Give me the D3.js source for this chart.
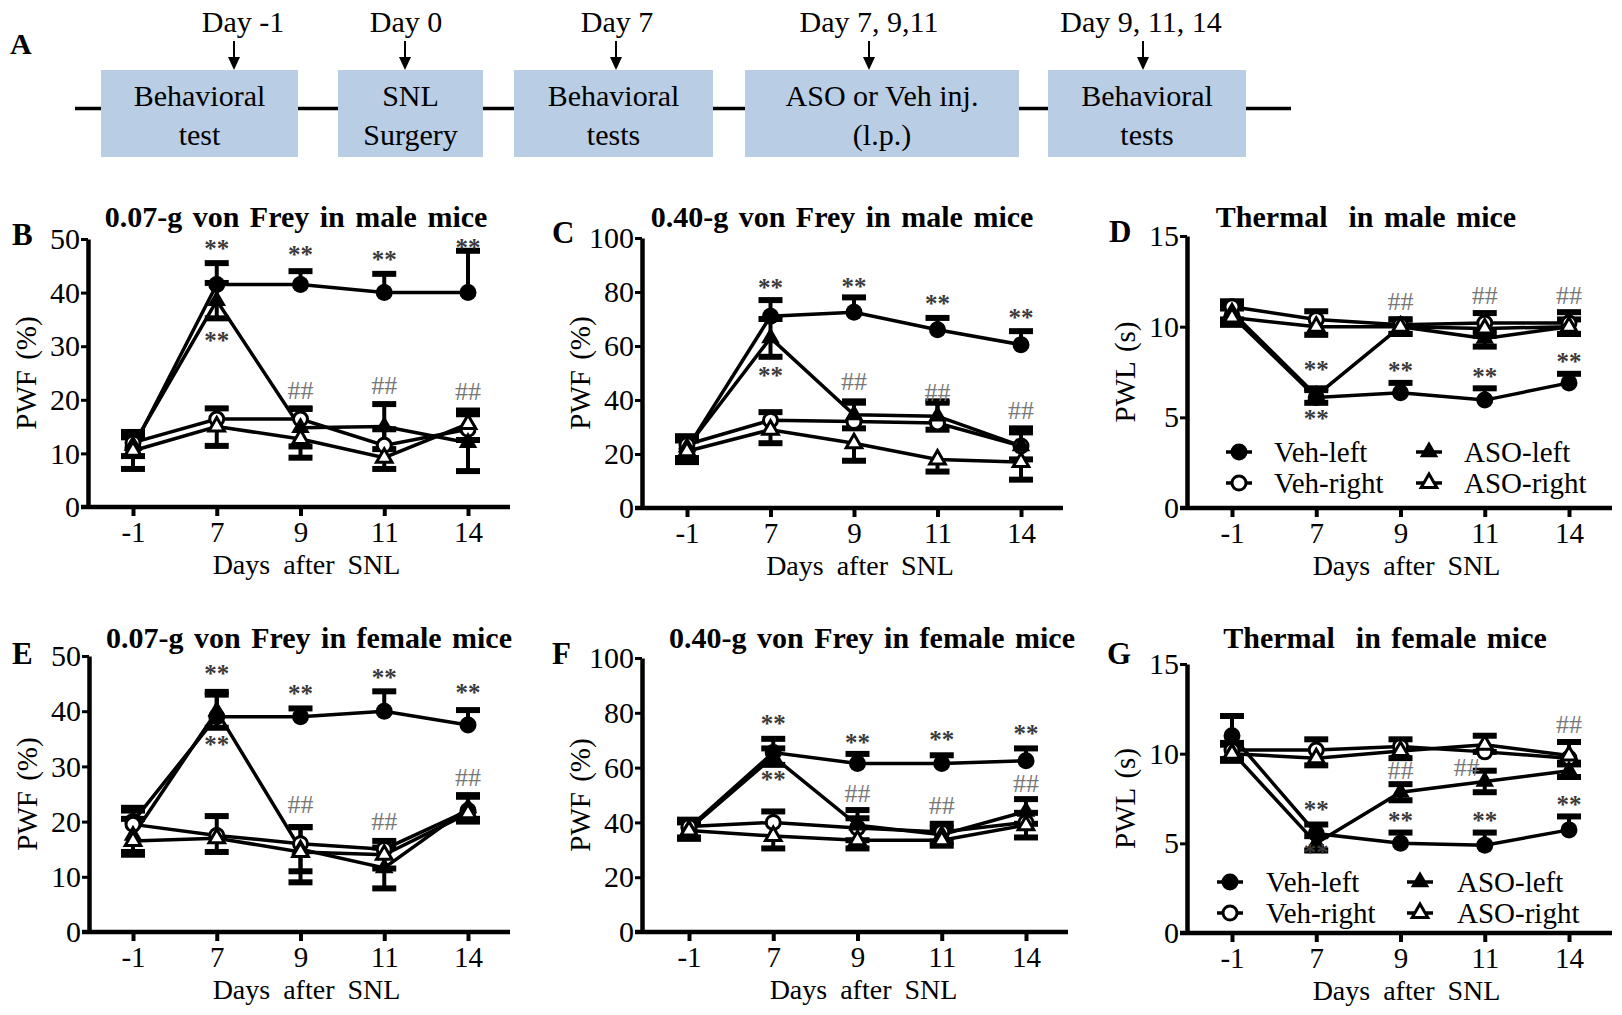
<!DOCTYPE html>
<html>
<head>
<meta charset="utf-8">
<script src="https://cdn.jsdelivr.net/npm/d3@7"></script>
<style>
  html, body { margin: 0; padding: 0; background: #fff; }
  svg { display: block; font-family: "Liberation Serif", "Times New Roman", serif; }
</style>
</head>
<body>
<svg id="fig" width="1622" height="1015"></svg>
<script>
// ---------------- DATA ----------------
const days = ["-1", "7", "9", "11", "14"];
const seriesNames = ["Veh-left", "Veh-right", "ASO-left", "ASO-right"];

// Panel A timeline
const stepDays = ["Day -1", "Day 0", "Day 7", "Day 7, 9,11", "Day 9, 11, 14"];
const stepLine1 = ["Behavioral", "SNL", "Behavioral", "ASO or Veh inj.", "Behavioral"];
const stepLine2 = ["test", "Surgery", "tests", "(l.p.)", "tests"];

// Panel B: 0.07-g von Frey, male (PWF %)
const bVehLeft = [11, 41.5, 41.5, 40, 40];
const bVehLeftErr = [2, 4, 2.5, 3.5, 7.8];
const bVehRight = [12, 16.4, 16.4, 11.5, 14.5];
const bVehRightErr = [2, 2, 2, 3, 3.5];
const bAsoLeft = [11.5, 38.5, 14.8, 15, 12];
const bAsoLeftErr = [2, 3.3, 3.5, 4.2, 5.3];
const bAsoRight = [10.5, 15, 12.7, 9.2, 15.5];
const bAsoRightErr = [3.4, 3.6, 3.5, 2.1, 3];
const bStars = [["7", 48.7], ["9", 47.5], ["11", 46.6], ["14", 48.9], ["7", 31.6]];
const bHash = [["9", 21.9], ["11", 22.8], ["14", 21.6]];

// Panel C: 0.40-g von Frey, male (PWF %)
const cVehLeft = [22, 71, 72.5, 66, 60.5];
const cVehLeftErr = [3, 6, 5.5, 4.4, 5];
const cVehRight = [23.5, 32.5, 32, 31.5, 23];
const cVehRightErr = [3, 3, 7, 8, 6.5];
const cAsoLeft = [22.5, 63, 34.5, 34, 23];
const cAsoLeftErr = [4, 7, 5, 5, 5];
const cAsoRight = [21, 29, 24, 18, 17];
const cAsoRightErr = [4, 5, 6.5, 4.5, 6.5];
const cStars = [["7", 82.7], ["9", 83], ["11", 76.5], ["14", 71.6], ["7", 50]];
const cHash = [["9", 47], ["11", 43], ["14", 36.4]];

// Panel D: Thermal, male (PWL s)
const dVehLeft = [10.6, 6.1, 6.35, 5.95, 6.9];
const dVehLeftErr = [0.4, 0.4, 0.55, 0.65, 0.5];
const dVehRight = [11.1, 10.4, 10.1, 10.2, 10.2];
const dVehRightErr = [0.3, 0.45, 0.3, 0.55, 0.6];
const dAsoLeft = [10.8, 6.2, 10.0, 9.35, 10.0];
const dAsoLeftErr = [0.4, 0.4, 0.4, 0.45, 0.4];
const dAsoRight = [10.5, 10.0, 10.0, 9.9, 10.0];
const dAsoRightErr = [0.4, 0.45, 0.4, 0.4, 0.4];
const dStars = [["7", 7.8], ["9", 7.7], ["11", 7.4], ["14", 8.2], ["7", 5.06]];
const dHash = [["9", 11.4], ["11", 11.75], ["14", 11.75]];

// Panel E: 0.07-g von Frey, female (PWF %)
const eVehLeft = [20, 39, 39, 40, 37.5];
const eVehLeftErr = [2.5, 4.5, 1.5, 3.6, 2.7];
const eVehRight = [19.5, 17.5, 16, 15, 22];
const eVehRightErr = [2.5, 3.5, 3, 1.5, 2.8];
const eAsoLeft = [17.5, 40, 15, 11.6, 22.5];
const eAsoLeftErr = [3, 3, 4, 3.7, 2];
const eAsoRight = [16.5, 17, 14.5, 14, 21.5];
const eAsoRightErr = [2.5, 2.5, 5.5, 2.5, 1.5];
const eStars = [["7", 47.3], ["9", 43.6], ["11", 46.6], ["14", 43.9], ["7", 34.5]];
const eHash = [["9", 23.2], ["11", 20.1], ["14", 28]];

// Panel F: 0.40-g von Frey, female (PWF %)
const fVehLeft = [38, 65.5, 61.5, 61.5, 62.5];
const fVehLeftErr = [2, 5, 3.5, 3, 4.5];
const fVehRight = [38.5, 40, 38, 36.5, 40];
const fVehRightErr = [2.5, 4, 3.5, 3, 3.5];
const fAsoLeft = [37.5, 64, 39, 35.5, 44];
const fAsoLeftErr = [3, 3, 5.5, 2.5, 4.5];
const fAsoRight = [37, 35, 33.5, 33.5, 39];
const fAsoRightErr = [3, 4.5, 3, 2, 4.5];
const fStars = [["7", 77], ["9", 70], ["11", 71], ["14", 73.5], ["7", 56.6]];
const fHash = [["9", 50.6], ["11", 46.4], ["14", 54.2]];

// Panel G: Thermal, female (PWL s)
const gVehLeft = [11, 5.55, 5, 4.9, 5.75];
const gVehLeftErr = [1.1, 0.5, 0.6, 0.7, 0.75];
const gVehRight = [10.2, 10.2, 10.4, 10.1, 9.75];
const gVehRightErr = [0.4, 0.6, 0.4, 0.9, 0.9];
const gAsoLeft = [10.1, 5.0, 7.85, 8.45, 9.05];
const gAsoLeftErr = [0.4, 0.4, 0.45, 0.6, 0.35];
const gAsoRight = [10.0, 9.75, 10.15, 10.5, 9.9];
const gAsoRightErr = [0.4, 0.4, 0.4, 0.4, 0.4];
const gStars = [["7", 7.0], ["9", 6.4], ["11", 6.4], ["14", 7.3], ["7", 4.65]];
const gHash = [["9", 9.07], ["11", 9.26], ["14", 11.67]];

const pwfTicks = [0, 10, 20, 30, 40, 50];
const pwf100Ticks = [0, 20, 40, 60, 80, 100];
const pwlTicks = [0, 5, 10, 15];

// ---------------- DRAWING ----------------
const svg = d3.select("#fig");
svg.append("rect").attr("width", 1622).attr("height", 1015).attr("fill", "#fff");

const FONT = "'Liberation Serif', 'Times New Roman', serif";

// ---- Panel A ----
(function drawA() {
  const g = svg.append("g");
  const boxes = [[101, 298], [338, 483], [514, 713], [745, 1019], [1048, 1246]];
  const arrowX = [234, 405, 616, 869, 1143];
  const labelX = [243, 406, 617, 869, 1141];
  g.append("line").attr("x1", 75).attr("x2", 1291).attr("y1", 108.5).attr("y2", 108.5)
    .attr("stroke", "#000").attr("stroke-width", 3.5);
  g.append("text").attr("x", 10).attr("y", 54).text("A")
    .attr("font-size", 30).attr("font-weight", "bold");
  stepDays.forEach((d, i) => {
    const [a, b] = boxes[i];
    g.append("rect").attr("x", a).attr("y", 70).attr("width", b - a).attr("height", 87)
      .attr("fill", "#b9cde4");
    g.append("text").attr("x", (a + b) / 2).attr("y", 106).attr("text-anchor", "middle")
      .attr("font-size", 30).text(stepLine1[i]);
    g.append("text").attr("x", (a + b) / 2).attr("y", 145).attr("text-anchor", "middle")
      .attr("font-size", 30).text(stepLine2[i]);
    g.append("text").attr("x", labelX[i]).attr("y", 32).attr("text-anchor", "middle")
      .attr("font-size", 30).style("white-space", "pre").text(d);
    g.append("line").attr("x1", arrowX[i]).attr("x2", arrowX[i]).attr("y1", 41).attr("y2", 60)
      .attr("stroke", "#000").attr("stroke-width", 2);
    g.append("path").attr("d", `M${arrowX[i] - 6},57 L${arrowX[i] + 6},57 L${arrowX[i]},70 Z`)
      .attr("fill", "#000");
  });
})();

const seriesStyle = [
  { shape: "circle", fill: "#000", dir: "up" },
  { shape: "circle", fill: "#fff", dir: "up" },
  { shape: "triangle", fill: "#000", dir: "both" },
  { shape: "triangle", fill: "#fff", dir: "down" }
];

function marker(sel, shape, fill, cx, cy) {
  if (shape === "circle") {
    sel.append("circle").attr("cx", cx).attr("cy", cy).attr("r", fill === "#000" ? 8.5 : 7)
      .attr("fill", fill).attr("stroke", "#000").attr("stroke-width", fill === "#000" ? 0 : 3);
  } else {
    sel.append("path").attr("d", d3.symbol(d3.symbolTriangle, fill === "#000" ? 150 : 105)())
      .attr("transform", `translate(${cx},${cy})`)
      .attr("fill", fill).attr("stroke", "#000").attr("stroke-width", fill === "#000" ? 0 : 3);
  }
}

function drawPanel(cfg) {
  const g = svg.append("g");
  const x = d3.scalePoint().domain(days).range([cfg.px0, cfg.px1]);
  const y = d3.scaleLinear().domain([0, cfg.ymax]).range([cfg.y0, cfg.y1]);

  // y axis
  const ya = d3.axisLeft(y).tickValues(cfg.yticks).tickSize(7).tickPadding(1).tickSizeOuter(0);
  const gy = g.append("g").attr("transform", `translate(${cfg.ax},0)`).call(ya);
  gy.select(".domain").attr("stroke-width", 4.5);
  gy.selectAll(".tick line").attr("stroke-width", 3);
  gy.selectAll(".tick text").attr("font-size", 30).attr("font-family", FONT).attr("fill", "#000");

  // x axis
  const xa = d3.axisBottom(x).tickSize(9).tickSizeOuter(0);
  const gx = g.append("g").attr("transform", `translate(0,${cfg.y0})`).call(xa);
  gx.select(".domain").remove();
  gx.append("line").attr("x1", cfg.ax - 7).attr("x2", cfg.xend).attr("y1", 0).attr("y2", 0)
    .attr("stroke", "#000").attr("stroke-width", 4.5);
  gx.selectAll(".tick line").attr("stroke-width", 4);
  gx.selectAll(".tick text").attr("font-size", 29).attr("font-family", FONT).attr("fill", "#000")
    .attr("dy", null).attr("y", 35);

  // axis titles
  g.append("text").attr("x", (cfg.px0 + cfg.px1) / 2 + 6).attr("y", cfg.y0 + 66.5)
    .attr("text-anchor", "middle").attr("font-size", 28).attr("word-spacing", 6)
    .text("Days after SNL");
  g.append("text")
    .attr("transform", `translate(${cfg.ax - 52},${(cfg.y0 + cfg.y1) / 2}) rotate(-90)`)
    .attr("text-anchor", "middle").attr("font-size", 29).attr("word-spacing", 3)
    .text(cfg.ylabel);

  // panel title and letter
  g.append("text").attr("x", cfg.tx).attr("y", cfg.ty).attr("text-anchor", "middle")
    .attr("font-size", 30).attr("font-weight", "bold").attr("word-spacing", 3)
    .style("white-space", "pre").text(cfg.title);
  g.append("text").attr("x", cfg.lx).attr("y", cfg.ly).attr("font-size", 31)
    .attr("font-weight", "bold").text(cfg.letter);

  const line = d3.line().x(d => x(d.day)).y(d => y(d.v));
  const data = cfg.series.map((s, i) => ({
    style: seriesStyle[i],
    pts: days.map((d, j) => ({ day: d, v: s.vals[j], e: s.err[j] }))
  }));

  // lines
  data.forEach(s => {
    g.append("path").datum(s.pts).attr("d", line).attr("fill", "none")
      .attr("stroke", "#000").attr("stroke-width", 3.5);
  });
  // error bars
  data.forEach(s => {
    s.pts.forEach(p => {
      const ends = [];
      if (s.style.dir === "up" || s.style.dir === "both") ends.push(p.v + p.e);
      if (s.style.dir === "down" || s.style.dir === "both") ends.push(p.v - p.e);
      ends.forEach(ev => {
        g.append("line").attr("x1", x(p.day)).attr("x2", x(p.day))
          .attr("y1", y(p.v)).attr("y2", y(ev)).attr("stroke", "#000").attr("stroke-width", 4);
        g.append("line").attr("x1", x(p.day) - 12).attr("x2", x(p.day) + 12)
          .attr("y1", y(ev)).attr("y2", y(ev)).attr("stroke", "#000").attr("stroke-width", 6);
      });
    });
  });
  // markers
  data.forEach(s => {
    s.pts.forEach(p => marker(g, s.style.shape, s.style.fill, x(p.day), y(p.v)));
  });

  // significance marks
  cfg.stars.forEach(([d, v]) => {
    g.append("text").attr("x", x(d)).attr("y", y(v) + 11).attr("text-anchor", "middle")
      .attr("font-size", 25).attr("font-weight", "bold").attr("fill", "#3a3a3a").text("**");
  });
  cfg.hash.forEach(([d, v]) => {
    const dx = (cfg.hashNudge && cfg.hashNudge[d]) || 0;
    g.append("text").attr("x", x(d) + dx).attr("y", y(v) + 9).attr("text-anchor", "middle")
      .attr("font-size", 26).attr("fill", "#777").text("##");
  });

  // legend
  if (cfg.legend) {
    const L = cfg.legend;
    seriesNames.forEach((name, i) => {
      const col = i < 2 ? 0 : 1, row = i % 2;
      const cx = L.sx[col], cy = L.rows[row];
      g.append("line").attr("x1", cx - 13).attr("x2", cx + 13).attr("y1", cy).attr("y2", cy)
        .attr("stroke", "#000").attr("stroke-width", 3.5);
      marker(g, seriesStyle[i].shape, seriesStyle[i].fill, cx, cy);
      g.append("text").attr("x", L.tx[col]).attr("y", cy + 10).attr("font-size", 29).text(name);
    });
  }
}

function S(v, ve, r, re, al, ale, ar, are) {
  return [{ vals: v, err: ve }, { vals: r, err: re }, { vals: al, err: ale }, { vals: ar, err: are }];
}

drawPanel({ letter: "B", title: "0.07-g von Frey in male mice", ylabel: "PWF (%)",
  ax: 88, px0: 133, px1: 468, xend: 510, y0: 507, y1: 239, ymax: 50, yticks: pwfTicks,
  tx: 296, ty: 227, lx: 12, ly: 245,
  series: S(bVehLeft, bVehLeftErr, bVehRight, bVehRightErr, bAsoLeft, bAsoLeftErr, bAsoRight, bAsoRightErr),
  stars: bStars, hash: bHash });

drawPanel({ letter: "C", title: "0.40-g von Frey in male mice", ylabel: "PWF (%)",
  ax: 642, px0: 687, px1: 1021, xend: 1063, y0: 508, y1: 238, ymax: 100, yticks: pwf100Ticks,
  tx: 842, ty: 227, lx: 552, ly: 243,
  series: S(cVehLeft, cVehLeftErr, cVehRight, cVehRightErr, cAsoLeft, cAsoLeftErr, cAsoRight, cAsoRightErr),
  stars: cStars, hash: cHash });

drawPanel({ letter: "D", title: "Thermal  in male mice", ylabel: "PWL (s)",
  ax: 1187, px0: 1232, px1: 1569, xend: 1612, y0: 508, y1: 236, ymax: 15, yticks: pwlTicks,
  tx: 1366, ty: 227, lx: 1109, ly: 242,
  series: S(dVehLeft, dVehLeftErr, dVehRight, dVehRightErr, dAsoLeft, dAsoLeftErr, dAsoRight, dAsoRightErr),
  stars: dStars, hash: dHash,
  legend: { rows: [452, 483], sx: [1239, 1429], tx: [1274, 1464] } });

drawPanel({ letter: "E", title: "0.07-g von Frey in female mice", ylabel: "PWF (%)",
  ax: 89, px0: 133, px1: 468, xend: 510, y0: 932, y1: 656, ymax: 50, yticks: pwfTicks,
  tx: 309, ty: 648, lx: 12, ly: 664,
  series: S(eVehLeft, eVehLeftErr, eVehRight, eVehRightErr, eAsoLeft, eAsoLeftErr, eAsoRight, eAsoRightErr),
  stars: eStars, hash: eHash });

drawPanel({ letter: "F", title: "0.40-g von Frey in female mice", ylabel: "PWF (%)",
  ax: 642, px0: 689, px1: 1026, xend: 1068, y0: 932, y1: 658, ymax: 100, yticks: pwf100Ticks,
  tx: 872, ty: 648, lx: 552, ly: 664,
  series: S(fVehLeft, fVehLeftErr, fVehRight, fVehRightErr, fAsoLeft, fAsoLeftErr, fAsoRight, fAsoRightErr),
  stars: fStars, hash: fHash });

drawPanel({ letter: "G", title: "Thermal  in female mice", ylabel: "PWL (s)",
  ax: 1187, px0: 1232, px1: 1569, xend: 1612, y0: 933, y1: 664, ymax: 15, yticks: pwlTicks,
  tx: 1385, ty: 648, lx: 1107, ly: 664,
  series: S(gVehLeft, gVehLeftErr, gVehRight, gVehRightErr, gAsoLeft, gAsoLeftErr, gAsoRight, gAsoRightErr),
  stars: gStars, hash: gHash, hashNudge: { "11": -18 },
  legend: { rows: [882, 913], sx: [1230, 1420], tx: [1266, 1457] } });
</script>
</body>
</html>
